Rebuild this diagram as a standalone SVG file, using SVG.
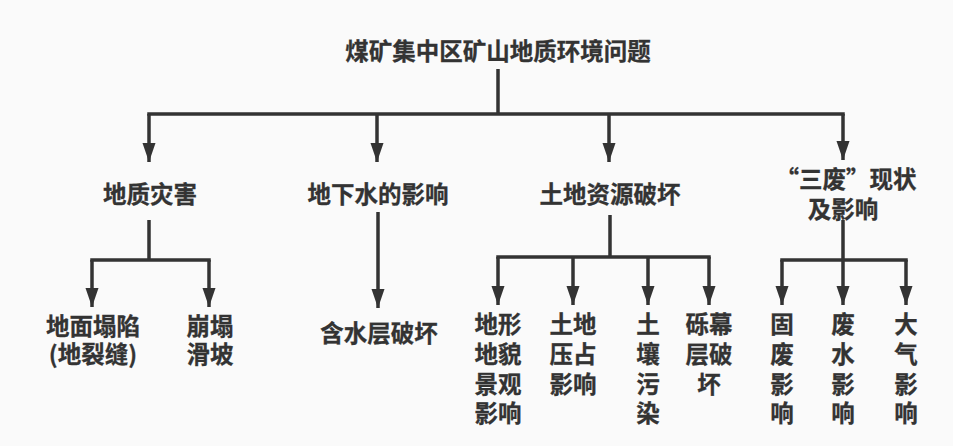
<svg xmlns="http://www.w3.org/2000/svg" width="953" height="446" viewBox="0 0 953 446">
<defs>
<marker id="arr" markerUnits="userSpaceOnUse" markerWidth="20" markerHeight="14" viewBox="0 0 20 14" refX="19" refY="7" orient="auto">
<path d="M0,0.5 L19,7 L0,13.5 z" fill="#333"/>
</marker>
<style>
text{font-family:"Noto Sans CJK SC","Noto Sans",sans-serif;font-weight:bold;font-size:23.5px;fill:#333;stroke:#333;stroke-width:0.3;text-anchor:middle;dominant-baseline:central}
.c{fill:none;stroke:#333;stroke-width:3.5}
.a{marker-end:url(#arr)}
</style>
</defs>
<rect width="953" height="446" fill="#fafafa"/>
<g id="connectors">
<path class="c" d="M498,69 V114 M147.25,114 H844.75"/>
<path class="c a" d="M149,114 V162"/>
<path class="c a" d="M377,114 V162"/>
<path class="c a" d="M609,114 V162"/>
<path class="c a" d="M843,114 V160"/>
<path class="c" d="M149,220 V260 M90.25,260 H210.75"/>
<path class="c a" d="M92,260 V307"/>
<path class="c a" d="M209,260 V307"/>
<path class="c a" d="M378,212 V308"/>
<path class="c" d="M610,215 V257 M496.25,257 H710.75"/>
<path class="c a" d="M498,257 V305"/>
<path class="c a" d="M573,257 V305"/>
<path class="c a" d="M648,257 V305"/>
<path class="c a" d="M709,257 V305"/>
<path class="c" d="M843,220 V260 M780.25,260 H907.75"/>
<path class="c a" d="M782,260 V305"/>
<path class="c a" d="M843,260 V305"/>
<path class="c a" d="M906,260 V305"/>
</g>
<g id="root"><text x="498" y="50">煤矿集中区矿山地质环境问题</text></g>
<g id="n1"><text x="150" y="193">地质灾害</text></g>
<g id="n2"><text x="378" y="193">地下水的影响</text></g>
<g id="n3"><text x="610" y="193">土地资源破坏</text></g>
<g id="n4"><text><tspan x="846" y="178">“三废”现状</tspan><tspan x="843" y="208">及影响</tspan></text></g>
<g id="n11"><text><tspan x="93" y="325">地面塌陷</tspan><tspan x="93" y="353">(地裂缝)</tspan></text></g>
<g id="n12"><text><tspan x="210" y="325">崩塌</tspan><tspan x="210" y="353">滑坡</tspan></text></g>
<g id="n21"><text x="379" y="332">含水层破坏</text></g>
<g id="n31"><text><tspan x="498" y="323">地形</tspan><tspan x="498" y="353">地貌</tspan><tspan x="498" y="383">景观</tspan><tspan x="498" y="412">影响</tspan></text></g>
<g id="n32"><text><tspan x="573" y="323">土地</tspan><tspan x="573" y="353">压占</tspan><tspan x="573" y="383">影响</tspan></text></g>
<g id="n33"><text><tspan x="648" y="323">土</tspan><tspan x="648" y="353">壤</tspan><tspan x="648" y="383">污</tspan><tspan x="648" y="412">染</tspan></text></g>
<g id="n34"><text><tspan x="709" y="323">砾幕</tspan><tspan x="709" y="353">层破</tspan><tspan x="709" y="383">坏</tspan></text></g>
<g id="n41"><text><tspan x="782" y="323">固</tspan><tspan x="782" y="353">废</tspan><tspan x="782" y="383">影</tspan><tspan x="782" y="412">响</tspan></text></g>
<g id="n42"><text><tspan x="843" y="323">废</tspan><tspan x="843" y="353">水</tspan><tspan x="843" y="383">影</tspan><tspan x="843" y="412">响</tspan></text></g>
<g id="n43"><text><tspan x="906" y="323">大</tspan><tspan x="906" y="353">气</tspan><tspan x="906" y="383">影</tspan><tspan x="906" y="412">响</tspan></text></g>
</svg>
